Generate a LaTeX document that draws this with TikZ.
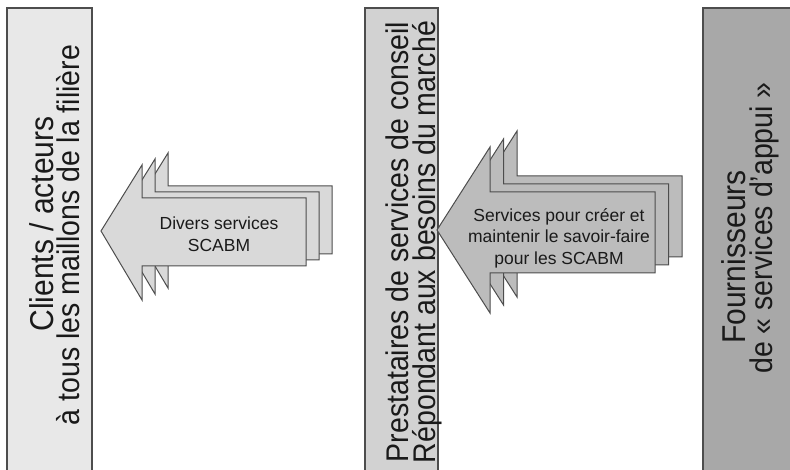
\documentclass[tikz,border=0pt]{standalone}
\usepackage{fontspec}
\setmainfont{Liberation Sans}
\definecolor{edgegray}{RGB}{77, 77, 77}
\definecolor{textgray}{RGB}{26, 26, 26}
\definecolor{gray1}{RGB}{232, 232, 232}
\definecolor{gray2}{RGB}{210, 210, 210}
\definecolor{gray3}{RGB}{168, 168, 168}
\definecolor{arrowlight}{RGB}{217, 217, 217}
\definecolor{arrowdark}{RGB}{188, 188, 188}
\usetikzlibrary{positioning}

\begin{document}
\begin{tikzpicture}[x=1pt, y=-1pt,
  column/.style={draw=edgegray, line width=1.2pt},
  coltext/.style={rotate=90, yscale=1.1, anchor=base, text=textgray, font=\fontsize{28.5}{26}\selectfont},
  bigtext/.style={coltext, font=\fontsize{30}{26}\selectfont},
  layer/.style={draw=edgegray, line width=1pt},
  arrowtext/.style={align=center, text=textgray, font=\fontsize{17.5}{21.5}\selectfont}]
  \clip (0,0) rectangle (790,470);

  \draw[column, fill=gray1] (7,8) rectangle (92,480);
  \draw[column, fill=gray2] (365,8) rectangle (438,480);
  \draw[column, fill=gray3] (703,8) rectangle (800,480);

  \node[bigtext] (clientsA) at (53,224) {Clients / acteurs};
  \node[coltext] (clientsB) at (79,235) {à tous les maillons de la filière};
  \node[coltext] (prestA) at (408,242) {Prestataires de services de conseil};
  \node[coltext] (prestB) at (435,242) {Répondant aux besoins du marché};
  \node[bigtext] (fournA) at (745,257) {Fournisseurs};
  \node[coltext] (fournB) at (772,228) {de « services d'appui »};

  \foreach \i in {2,1,0}
    \draw[layer, fill=arrowlight, shift={(13*\i,-6*\i)}]
      (101,231) -- (142,165) -- (142,198) -- (306,198) -- (306,266) -- (142,266) -- (142,300) -- cycle;
  \foreach \i in {2,1,0}
    \draw[layer, fill=arrowdark, shift={(13.5*\i,-8*\i)}]
      (437,230) -- (490,147) -- (490,192) -- (655,192) -- (655,273) -- (490,273) -- (490,313) -- cycle;

  \node[arrowtext] (divers) at (219,234) {Divers services\\SCABM};
  \node[arrowtext] (savoir) at (559,238) {Services pour créer et\\maintenir le savoir-faire\\pour les SCABM};
\end{tikzpicture}
\end{document}
